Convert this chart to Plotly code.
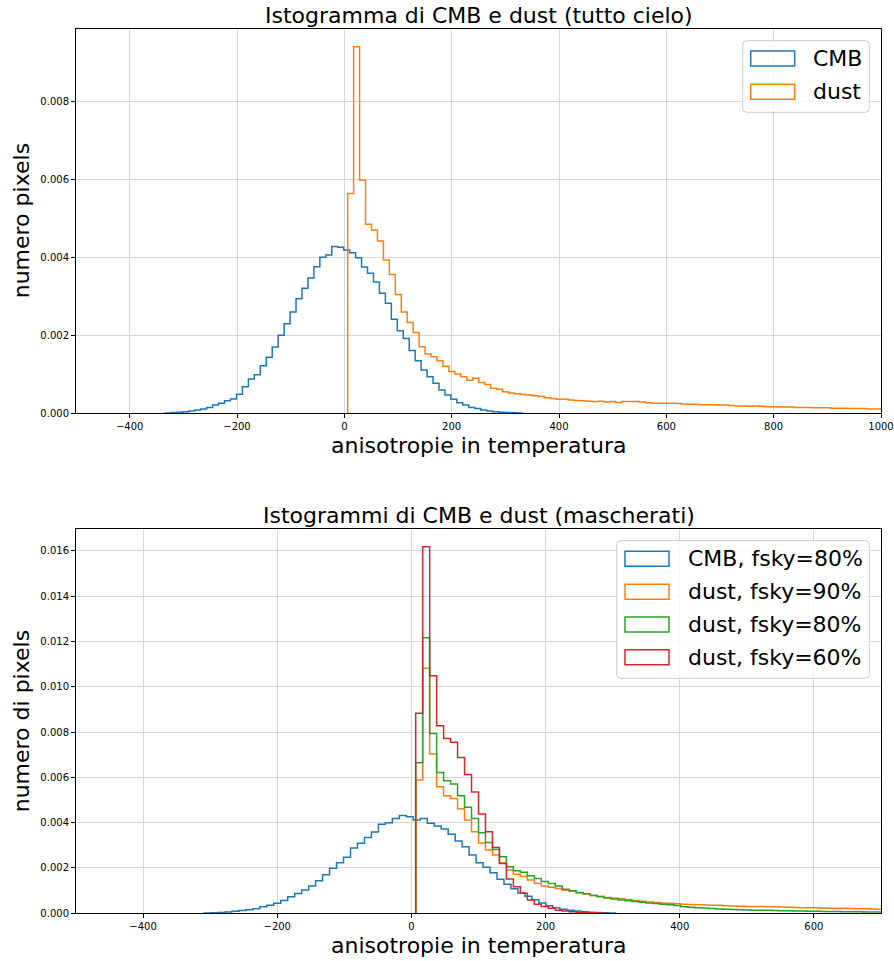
import numpy as np
import plotly.graph_objects as go

W, H = 894, 961

# ---------------- top panel: full sky ----------------
cmb_top_start = -334.2
cmb_top_width = 11.1
cmb_top = [0.00001, 0.00002, 0.00003, 0.00004, 0.00006, 0.000085, 0.00011, 0.00015, 0.00021, 0.00026,
           0.00032, 0.00037, 0.00049, 0.00068, 0.00088, 0.00099, 0.00122, 0.00144, 0.0017, 0.0020,
           0.0023, 0.0026, 0.00294, 0.00321, 0.00347, 0.00376, 0.0040, 0.00406, 0.00428, 0.00426,
           0.00419, 0.00412, 0.00399, 0.00375, 0.00359, 0.00337, 0.00308, 0.00282, 0.00241, 0.00212,
           0.00192, 0.00161, 0.00135, 0.00111, 0.00094, 0.00077, 0.0006, 0.00047, 0.00036, 0.00027,
           0.00021, 0.00015, 0.00012, 0.000085, 0.00006, 0.00004, 0.00003, 0.00002, 0.000015, 0.00001]

dust_top_start = 6.2
dust_top_width = 11.1
dust_top = [0.00564, 0.0094, 0.00598, 0.00485, 0.0047, 0.00442, 0.00393, 0.00356, 0.00305, 0.0026,
            0.00233, 0.00207, 0.00171, 0.00152, 0.00145, 0.00135, 0.00121, 0.00107, 0.00101, 0.00094,
            0.00085, 0.0009, 0.00079, 0.00074, 0.00064, 0.00062, 0.00055,
            0.00052, 0.0005, 0.00048, 0.00047, 0.00045, 0.00043, 0.0004, 0.00038, 0.00036, 0.00036,
            0.00034, 0.00033, 0.00032, 0.00031, 0.0003, 0.00031, 0.00029, 0.0003, 0.00028, 0.0003,
            0.0003, 0.0003, 0.00029, 0.00027, 0.00026, 0.00026, 0.00026, 0.00026, 0.00025, 0.00024,
            0.00023, 0.00023, 0.00022, 0.00022, 0.00022, 0.00021, 0.00021, 0.0002, 0.00019, 0.00019,
            0.00018, 0.00019, 0.00018, 0.00017, 0.00017, 0.00016, 0.00016, 0.00016, 0.00015, 0.00015,
            0.00015, 0.00014, 0.00014, 0.00014, 0.00013, 0.00013, 0.00013, 0.00012, 0.00012, 0.00012,
            0.00011, 0.00011, 0.00011, 0.0001]

# ---------------- bottom panel: masked ----------------
cmb80_start = -309.2
bot_width = 10.4
cmb80 = [0.00001, 0.00002, 0.00004, 0.00006, 0.00009, 0.00012, 0.00016, 0.0002, 0.00029, 0.00035,
         0.00044, 0.00056, 0.00073, 0.00087, 0.00103, 0.0012, 0.00144, 0.0017, 0.00199, 0.00223,
         0.00247, 0.00288, 0.00309, 0.00335, 0.00359, 0.00393, 0.0040, 0.00419, 0.00432, 0.00426,
         0.00412, 0.00419, 0.00397, 0.00385, 0.00372, 0.00349, 0.00319, 0.00294, 0.00257, 0.00223,
         0.00203, 0.00179, 0.0015, 0.00128, 0.00108, 0.0009, 0.00075, 0.0006, 0.00045, 0.00033,
         0.00024, 0.00018, 0.00013, 0.0001, 0.00007, 0.00005, 0.00004, 0.00002, 0.00001]

dust_start = 6.4
dust90 = [0.00588, 0.01082, 0.00703, 0.00559, 0.00519, 0.00507, 0.00462, 0.00412, 0.0036, 0.0031,
          0.00279, 0.00257, 0.00223, 0.00191, 0.00172, 0.00162, 0.00147, 0.00132, 0.0012, 0.00115,
          0.0011, 0.00102, 0.00097, 0.0009, 0.00085, 0.00079, 0.00075, 0.0007, 0.00066, 0.00064,
          0.0006, 0.00056, 0.00053, 0.0005, 0.00048, 0.00046, 0.00044, 0.00042, 0.0004, 0.00039,
          0.00038, 0.00037, 0.00035, 0.00035, 0.00033, 0.00032, 0.00031, 0.0003, 0.0003, 0.0003,
          0.00029, 0.00029, 0.00028, 0.00027, 0.00026, 0.00025, 0.00024, 0.00024, 0.00023, 0.00022,
          0.00022, 0.00022, 0.00021, 0.0002, 0.0002, 0.00019, 0.00018, 0.00018]
dust80 = [0.00665, 0.01216, 0.00794, 0.00622, 0.00585, 0.00571, 0.00519, 0.00468, 0.00419, 0.00356,
          0.00312, 0.00282, 0.0025, 0.00206, 0.00188, 0.00181, 0.00166, 0.00154, 0.0014, 0.00131,
          0.0012, 0.00106, 0.001, 0.00092, 0.00086, 0.00079, 0.00073, 0.00068, 0.00063, 0.00059,
          0.00055, 0.00052, 0.00049, 0.00046, 0.00043, 0.0004, 0.00038, 0.00034, 0.00029, 0.00027,
          0.00025, 0.00023, 0.00021, 0.00019, 0.00018, 0.00017, 0.00016, 0.00015, 0.00014, 0.00013,
          0.00013, 0.00012, 0.00011, 0.00011, 0.0001, 0.0001, 0.00009, 0.00009, 0.00008, 0.00008,
          0.00008, 0.00007, 0.00007, 0.00007, 0.00006, 0.00006, 0.00006, 0.00006]
dust60 = [0.00883, 0.01618, 0.01049, 0.00828, 0.00772, 0.00755, 0.00688, 0.00613, 0.00535, 0.00438,
          0.0036, 0.0029, 0.0022, 0.00151, 0.00117, 0.00088, 0.00059, 0.0004, 0.0003, 0.00022,
          0.00013, 0.0001, 0.00007, 0.00005, 0.00004, 0.00002, 0.00001]

top_title = "Istogramma di CMB e dust (tutto cielo)"
bot_title = "Istogrammi di CMB e dust (mascherati)"
x_label = "anisotropie in temperatura"
top_ylabel = "numero pixels"
bot_ylabel = "numero di pixels"
top_names = ["CMB", "dust"]
bot_names = ["CMB, fsky=80%", "dust, fsky=90%", "dust, fsky=80%", "dust, fsky=60%"]

BLUE, ORANGE, GREEN, RED = "#1f77b4", "#ff7f0e", "#2ca02c", "#d62728"
FONT = "DejaVu Sans"


def step_xy(start, width, vals):
    vals = np.asarray(vals, dtype=float)
    edges = start + width * np.arange(len(vals) + 1)
    x = np.concatenate([[edges[0]], edges])
    y = np.concatenate([[0.0], vals, [0.0]])
    return x, y


fig = go.Figure()


def add_step(start, width, vals, color, xa, ya):
    x, y = step_xy(start, width, vals)
    fig.add_trace(go.Scatter(x=x, y=y, mode="lines", line=dict(color=color, width=1.5, shape="hv"),
                             xaxis=xa, yaxis=ya, showlegend=False, hoverinfo="skip"))


add_step(cmb_top_start, cmb_top_width, cmb_top, BLUE, "x", "y")
add_step(dust_top_start, dust_top_width, dust_top, ORANGE, "x", "y")
add_step(cmb80_start, bot_width, cmb80, BLUE, "x2", "y2")
add_step(dust_start, bot_width, dust90, ORANGE, "x2", "y2")
add_step(dust_start, bot_width, dust80, GREEN, "x2", "y2")
add_step(dust_start, bot_width, dust60, RED, "x2", "y2")


def px(xp):
    return xp / W


def py(yp):
    return 1 - yp / H


AX_L, AX_R = 76, 881
TOP_T, TOP_B = 29.3, 413.3
BOT_T, BOT_B = 529.3, 913.3

axis_common = dict(showgrid=True, gridcolor="#d6d6d6", gridwidth=1, zeroline=False,
                   showline=True, linecolor="#000000", linewidth=1, mirror=True,
                   ticks="outside", ticklen=4, tickwidth=1, tickcolor="#000000",
                   automargin=False,
                   tickfont=dict(family=FONT, size=10, color="#000000"))

fig.update_layout(
    template="none",
    width=W, height=H, margin=dict(l=0, r=0, t=0, b=0, pad=0), autosize=False,
    paper_bgcolor="white", plot_bgcolor="white", showlegend=False,
    xaxis=dict(domain=[px(AX_L), px(AX_R)], anchor="y", range=[-500, 1000], tick0=0, dtick=200, **axis_common),
    yaxis=dict(domain=[py(TOP_B), py(TOP_T)], anchor="x", range=[0, 0.00985], tick0=0, dtick=0.002,
               tickformat=".3f", **axis_common),
    xaxis2=dict(domain=[px(AX_L), px(AX_R)], anchor="y2", range=[-500, 700], tick0=0, dtick=200, **axis_common),
    yaxis2=dict(domain=[py(BOT_B), py(BOT_T)], anchor="x2", range=[0, 0.01695], tick0=0, dtick=0.002,
                tickformat=".3f", **axis_common),
)

annotations = []
shapes = []
cx = (AX_L + AX_R) / 2


def text(x, y, s, size=22, angle=0, xanchor="center"):
    annotations.append(dict(x=px(x), y=py(y), xref="paper", yref="paper", text=s, showarrow=False,
                            font=dict(family=FONT, size=size, color="#000000"), textangle=angle,
                            xanchor=xanchor, yanchor="middle"))


text(cx, 15, top_title)
text(cx, 446, x_label)
text(21, (TOP_T + TOP_B) / 2, top_ylabel, angle=-90)
text(cx, 515, bot_title)
text(cx, 945, x_label)
text(21, (BOT_T + BOT_B) / 2, bot_ylabel, angle=-90)


def rounded_rect_path(x0, y0, x1, y1, r=4):
    # pixel coords (y down) -> paper coords path with rounded corners
    def P(x, y):
        return f"{px(x):.6f},{py(y):.6f}"
    return (f"M {P(x0 + r, y0)} L {P(x1 - r, y0)} Q {P(x1, y0)} {P(x1, y0 + r)} "
            f"L {P(x1, y1 - r)} Q {P(x1, y1)} {P(x1 - r, y1)} "
            f"L {P(x0 + r, y1)} Q {P(x0, y1)} {P(x0, y1 - r)} "
            f"L {P(x0, y0 + r)} Q {P(x0, y0)} {P(x0 + r, y0)} Z")


def legend(box, names, colors, ys, patch_x0, text_x):
    x0, y0, x1, y1 = box
    shapes.append(dict(type="path", xref="paper", yref="paper", path=rounded_rect_path(x0, y0, x1, y1),
                       line=dict(color="#cccccc", width=1), fillcolor="rgba(255,255,255,0.8)", layer="above"))
    for name, col, yc in zip(names, colors, ys):
        shapes.append(dict(type="rect", xref="paper", yref="paper", x0=px(patch_x0), x1=px(patch_x0 + 44),
                           y0=py(yc + 7.5), y1=py(yc - 7.5), line=dict(color=col, width=1.5),
                           fillcolor="rgba(0,0,0,0)", layer="above"))
        text(text_x, yc, name, xanchor="left")


legend((742.7, 40.7, 869.3, 112.3), top_names, [BLUE, ORANGE], [58.5, 91.7], 750.7, 811.0)
legend((616.7, 540.7, 869.3, 678.3), bot_names, [BLUE, ORANGE, GREEN, RED],
       [558.7, 591.7, 624.5, 657.3], 625.0, 686.0)

fig.update_layout(annotations=annotations, shapes=shapes)
fig.write_html("out.html")
